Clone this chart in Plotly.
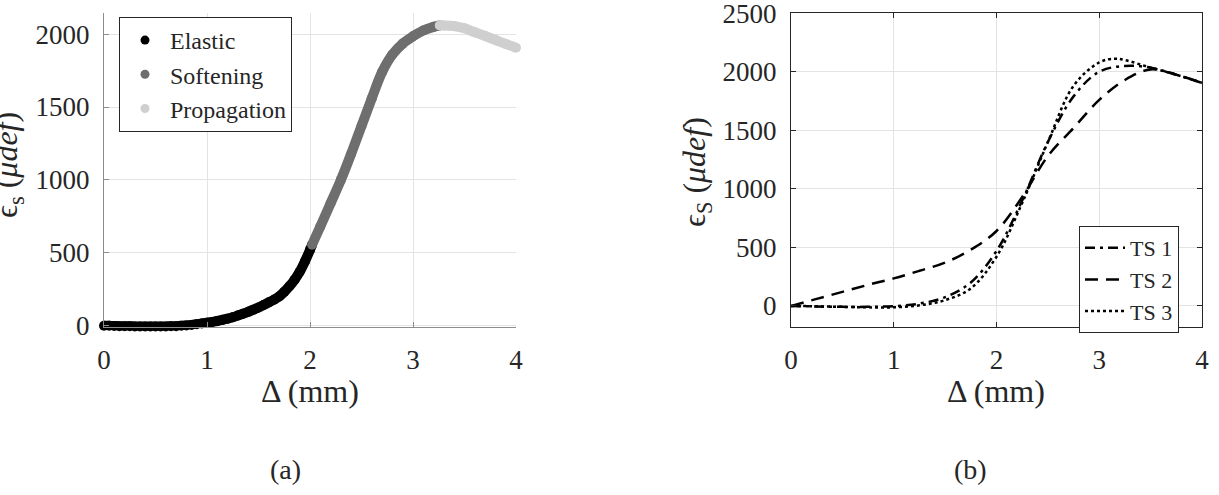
import plotly.graph_objects as go

W, H = 1219, 495

# ---------------- data: panel (a) ----------------
elastic_x = [0.0, 0.05, 0.1, 0.15, 0.2, 0.25, 0.3, 0.35, 0.4, 0.45, 0.5, 0.55, 0.6, 0.65, 0.7, 0.75,
             0.8, 0.85, 0.9, 0.95, 1.0, 1.05, 1.1, 1.15, 1.2, 1.25, 1.3, 1.35, 1.4, 1.45,
             1.5, 1.55, 1.6, 1.65, 1.7, 1.75, 1.8, 1.85, 1.9, 1.95, 2.0, 2.02]
elastic_y = [0, -1, -2, -3, -4, -4, -5, -5, -6, -6, -6, -6, -5, -4, -3, -1,
             2, 5, 10, 15, 20, 26, 32, 40, 48, 58, 70, 82, 95, 110,
             125, 142, 160, 178, 200, 232, 270, 315, 370, 440, 520, 555]
soft_x = [2.02, 2.1, 2.2, 2.3, 2.4, 2.5, 2.6, 2.7, 2.8, 2.9, 3.0, 3.1, 3.2, 3.26]
soft_y = [555, 680, 840, 1000, 1180, 1370, 1560, 1740, 1860, 1935, 1985, 2025, 2050, 2060]
prop_x = [3.26, 3.3, 3.4, 3.5, 3.6, 3.7, 3.8, 3.9, 4.0]
prop_y = [2060, 2060, 2055, 2040, 2013, 1987, 1960, 1933, 1907]

# ---------------- data: panel (b) ----------------
ts1_x = [0, 0.25, 0.5, 0.75, 1.0, 1.25, 1.5, 1.75, 2.0, 2.25, 2.5, 2.75, 3.0, 3.25, 3.5, 3.75, 4.0]
ts1_y = [0, -5, -8, -8, -2, 20, 75, 200, 470, 900, 1400, 1790, 2000, 2050, 2035, 1975, 1905]
ts2_x = [0, 0.25, 0.5, 0.75, 1.0, 1.25, 1.5, 1.75, 2.0, 2.25, 2.5, 2.75, 3.0, 3.25, 3.5, 3.75, 4.0]
ts2_y = [0, 60, 120, 180, 235, 300, 370, 480, 640, 930, 1280, 1520, 1760, 1930, 2020, 1975, 1905]
ts3_x = [0, 0.25, 0.5, 0.75, 1.0, 1.25, 1.5, 1.75, 2.0, 2.25, 2.5, 2.75, 3.0, 3.15, 3.25, 3.5, 3.75, 4.0]
ts3_y = [0, -3, -8, -12, -12, 5, 50, 150, 420, 880, 1400, 1880, 2080, 2112, 2100, 2035, 1975, 1905]

x_ticks = [0, 1, 2, 3, 4]
ya_ticks = [0, 500, 1000, 1500, 2000]
yb_ticks = [0, 500, 1000, 1500, 2000, 2500]

FONT = "Liberation Serif"
TXT = "#262626"

def px(x):
    return x / W

def py(y):
    return 1 - y / H

fig = go.Figure()

# panel (a) curves
for xs, ys, col in [(elastic_x, elastic_y, "#000000"),
                    (soft_x, soft_y, "#6e6e6e"),
                    (prop_x, prop_y, "#cfcfcf")]:
    fig.add_trace(go.Scatter(x=xs, y=ys, mode="lines+markers", line=dict(color=col, width=10, shape="spline"),
                             marker=dict(color=col, size=10), cliponaxis=False, showlegend=False,
                             xaxis="x", yaxis="y", hoverinfo="skip"))
for name, col in [("Elastic", "#000000"), ("Softening", "#6e6e6e"), ("Propagation", "#cfcfcf")]:
    fig.add_trace(go.Scatter(x=[None], y=[None], mode="markers", name=name,
                             marker=dict(color=col, size=9), legend="legend", xaxis="x", yaxis="y"))

# panel (b) curves
for xs, ys, nm, dash in [(ts1_x, ts1_y, "TS 1", "10px,5px,3px,5px"),
                         (ts2_x, ts2_y, "TS 2", "13px,8px"),
                         (ts3_x, ts3_y, "TS 3", "3px,3px")]:
    fig.add_trace(go.Scatter(x=xs, y=ys, mode="lines", name=nm,
                             line=dict(color="#000000", width=2.5, dash=dash, shape="spline"),
                             legend="legend2", xaxis="x2", yaxis="y2"))

dom_y = [py(327), py(13)]
ax_common = dict(showgrid=True, gridcolor="#e3e3e3", gridwidth=1, zeroline=False,
                 ticks="inside", ticklen=5, ticklabeloverflow="allow", automargin=False,
                 tickfont=dict(family=FONT, size=27, color=TXT))

fig.update_layout(
    width=W, height=H, margin=dict(l=0, r=0, t=0, b=0, autoexpand=False),
    paper_bgcolor="white", plot_bgcolor="white",
    xaxis=dict(domain=[px(104), px(516)], range=[0, 4], tickvals=x_ticks, anchor="y",
               showline=True, linecolor="#8c8c8c", tickcolor="#8c8c8c", mirror=False,
               ticklabelstandoff=9, **ax_common),
    yaxis=dict(domain=dom_y, range=[-9, 2145], tickvals=ya_ticks, anchor="x",
               showline=True, linecolor="#8c8c8c", tickcolor="#8c8c8c", mirror=False,
               ticklabelstandoff=8, **ax_common),
    xaxis2=dict(domain=[px(791), px(1202)], range=[0, 4], tickvals=x_ticks, anchor="y2",
                showline=True, linecolor="#262626", tickcolor="#262626", mirror="ticks",
                ticklabelstandoff=9, **ax_common),
    yaxis2=dict(domain=dom_y, range=[-180, 2502], tickvals=yb_ticks, anchor="x2",
                showline=True, linecolor="#262626", tickcolor="#262626", mirror="ticks",
                ticklabelstandoff=8, **ax_common),
    legend=dict(x=px(119), y=py(17), xanchor="left", yanchor="top",
                bgcolor="white", bordercolor="#262626", borderwidth=1,
                font=dict(family=FONT, size=24, color=TXT), tracegroupgap=0, itemwidth=40),
    legend2=dict(x=px(1079), y=py(226), xanchor="left", yanchor="top",
                 bgcolor="white", bordercolor="#262626", borderwidth=1,
                 font=dict(family=FONT, size=22, color=TXT), tracegroupgap=0, itemwidth=40),
    showlegend=True,
)

annotations = [
    dict(text="Δ (mm)", x=px(310), y=py(391), size=32),
    dict(text="Δ (mm)", x=px(996), y=py(391), size=32),
    dict(text="(a)", x=px(285), y=py(469), size=28),
    dict(text="(b)", x=px(970), y=py(469), size=28),
    dict(text="ϵ<sub>s</sub> (<i>μdef</i>)", x=px(9), y=py(165), textangle=-90, size=32),
    dict(text="ϵ<sub>S</sub> (<i>μdef</i>)", x=px(696), y=py(172), textangle=-90, size=32),
]
for a in annotations:
    sz = a.pop("size")
    fig.add_annotation(xref="paper", yref="paper", showarrow=False,
                       xanchor="center", yanchor="middle",
                       font=dict(family=FONT, size=sz, color=TXT), **a)

fig.write_html("out.html")
